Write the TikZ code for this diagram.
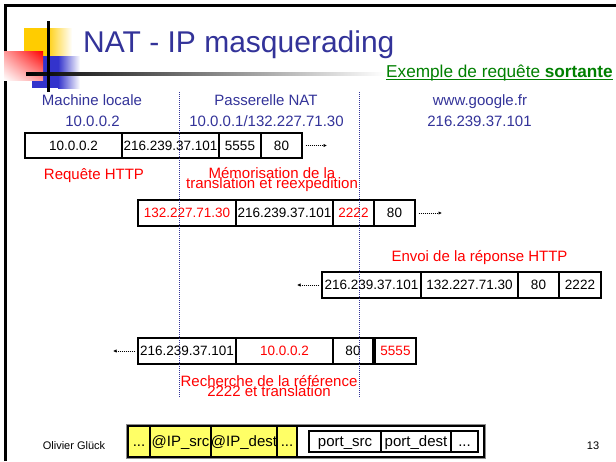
\documentclass[tikz,border=0pt]{standalone}
\usepackage{fontspec}
\setmainfont{Liberation Sans}
\usetikzlibrary{arrows.meta,shadings}
\definecolor{navy}{RGB}{51,51,153}
\definecolor{grn}{RGB}{0,128,0}
\definecolor{lblue}{RGB}{51,51,204}
\definecolor{gold}{RGB}{255,204,0}
\definecolor{yel}{RGB}{255,255,102}
\definecolor{redt}{RGB}{255,0,0}
\begin{document}
\begin{tikzpicture}[x=1pt,y=-1pt,
  cellbox/.style={draw=black, line width=1.2pt, fill=white, rectangle, inner sep=0pt,
    minimum height=26pt, font=\fontsize{13.5}{13.5}\selectfont, text height=9.7pt, text depth=0pt},
  hdr/.style={anchor=base, inner sep=0pt, text=navy, font=\fontsize{15}{15}\selectfont},
  redlbl/.style={anchor=base, inner sep=0pt, text=redt, font=\fontsize{15}{15}\selectfont},
  sepline/.style={navy, line width=1pt, dash pattern=on 1pt off 1pt},
  flow/.style={black, line width=0.9pt, dash pattern=on 1pt off 1pt, -{Latex[length=3.5pt,width=3.5pt]}},
  hdrcell/.style={draw=black, line width=1.2pt, fill=yel, rectangle, inner sep=0pt,
    minimum height=31pt, font=\fontsize{15}{15}\selectfont, text height=11pt, text depth=1pt},
  portcell/.style={draw=black, line width=1.2pt, fill=white, rectangle, inner sep=0pt,
    minimum height=21pt, font=\fontsize{15}{15}\selectfont, text height=11pt, text depth=1pt}
]
\useasboundingbox (0,0) rectangle (616,461);
\fill[white] (0,0) rectangle (616,461);
% frame
\draw[line width=2.5pt] (5.5,461) -- (5.5,5.5) -- (616,5.5);
% logo
\fill[gold] (24,28) rectangle (46,57);
\shade[left color=gold, right color=white] (46,28) rectangle (72,57);
\fill[lblue] (32,56) rectangle (58,88);
\shade[left color=lblue, right color=white] (58,56) rectangle (80,88);
\shade[upper right=red, upper left=red!40!white, lower right=red!40!white, lower left=white] (4,51) rectangle (43,80);
\shade[left color=black, right color=white] (26,72.8) rectangle (385,75.5);
\draw[line width=2.5pt] (48.3,21) -- (48.3,92);
% title
\node[anchor=base west, inner sep=0pt, text=navy, font=\fontsize{30}{30}\selectfont] (title) at (83,52) {NAT - IP masquerading};
\node[anchor=base west, inner sep=0pt, text=grn, font=\fontsize{17.2}{17.2}\selectfont] (ex) at (386,77) {Exemple de requête \textbf{sortante}};
\draw[grn, line width=1.2pt] ([yshift=-2.5pt]ex.base west) -- ([yshift=-2.5pt]ex.base east);
% column headers
\node[hdr] (h1) at (92,105) {Machine locale};
\node[hdr] (h1b) at (92.5,126) {10.0.0.2};
\node[hdr] (h2) at (266,105) {Passerelle NAT};
\node[hdr] (h2b) at (266.5,126) {10.0.0.1/132.227.71.30};
\node[hdr] (h3) at (480,105) {www.google.fr};
\node[hdr] (h3b) at (479.5,126) {216.239.37.101};
% row 1
\node[cellbox, minimum height=25pt, minimum width=97pt] (r1a) at (73.5,145.5) {10.0.0.2};
\node[cellbox, minimum height=25pt, minimum width=97pt] (r1b) at (170.5,145.5) {216.239.37.101};
\node[cellbox, minimum height=25pt, minimum width=42pt] (r1c) at (240,145.5) {5555};
\node[cellbox, minimum height=25pt, minimum width=41pt] (r1d) at (281.5,145.5) {80};
\coordinate (a1) at (327,145.5);
\draw[flow] ([xshift=3pt]r1d.east) -- (a1);
\node[redlbl] (l1) at (94,179) {Requête HTTP};
\node[redlbl] (l2a) at (272,178) {Mémorisation de la};
\node[redlbl] (l2b) at (272,188) {translation et reexpedition};
% row 2
\node[cellbox, minimum width=98pt, text=redt] (r2a) at (187,213) {132.227.71.30};
\node[cellbox, minimum width=97pt] (r2b) at (284.5,213) {216.239.37.101};
\node[cellbox, minimum width=41pt, text=redt] (r2c) at (353.5,213) {2222};
\node[cellbox, minimum width=41pt] (r2d) at (394.5,213) {80};
\coordinate (a2) at (442,213);
\draw[flow] ([xshift=3pt]r2d.east) -- (a2);
\node[redlbl] (l3) at (479.5,261) {Envoi de la réponse HTTP};
% row 3
\node[cellbox, minimum width=99pt] (r3a) at (371.5,285) {216.239.37.101};
\node[cellbox, minimum width=97pt] (r3b) at (469.5,285) {132.227.71.30};
\node[cellbox, minimum width=41pt] (r3c) at (538.5,285) {80};
\node[cellbox, minimum width=42pt] (r3d) at (580,285) {2222};
\coordinate (a3) at (297,285);
\draw[flow] ([xshift=-2pt]r3a.west) -- (a3);
% row 4
\node[cellbox, minimum width=98pt] (r4a) at (187,351) {216.239.37.101};
\node[cellbox, minimum width=97pt, text=redt] (r4b) at (284.5,351) {10.0.0.2};
\node[cellbox, minimum width=40pt] (r4c) at (353,351) {80};
\node[cellbox, minimum width=41pt, text=redt] (r4d) at (395.5,351) {5555};
\coordinate (a4) at (113,351);
\draw[flow] ([xshift=-2pt]r4a.west) -- (a4);
\node[redlbl] (l4a) at (269,386.5) {Recherche de la référence};
\node[redlbl] (l4b) at (269,396.5) {2222 et translation};
% separators
\coordinate (s1t) at (179.5,92); \coordinate (s1b) at (179.5,398);
\coordinate (s2t) at (359,92); \coordinate (s2b) at (359,398);
\draw[sepline] (s1t) -- (s1b);
\draw[sepline] (s2t) -- (s2b);
% footer
\node[anchor=base, inner sep=0pt, font=\fontsize{11}{11}\selectfont] (auth) at (74,449) {Olivier Glück};
\node[anchor=base, inner sep=0pt, font=\fontsize{11}{11}\selectfont] (pg) at (593,449) {13};
% header layout box
\draw[black!45, line width=0.8pt] (126.5,424.5) rectangle (485.5,458.5);
\node[draw=black, line width=1.2pt, fill=white, rectangle, inner sep=0pt, minimum width=356pt, minimum height=31pt] (outer) at (306,441.5) {};
\node[hdrcell, minimum width=22pt] (y1) at (139,441.5) {...};
\node[hdrcell, minimum width=61pt] (y2) at (180.5,441.5) {@IP\_src};
\node[hdrcell, minimum width=66pt] (y3) at (244,441.5) {@IP\_dest};
\node[hdrcell, minimum width=20pt] (y4) at (287,441.5) {...};
\node[portcell, minimum width=72pt] (p1) at (345,441.5) {port\_src};
\node[portcell, minimum width=70pt] (p2) at (416,441.5) {port\_dest};
\node[portcell, minimum width=27pt] (p3) at (464.5,441.5) {...};
\end{tikzpicture}
\end{document}
